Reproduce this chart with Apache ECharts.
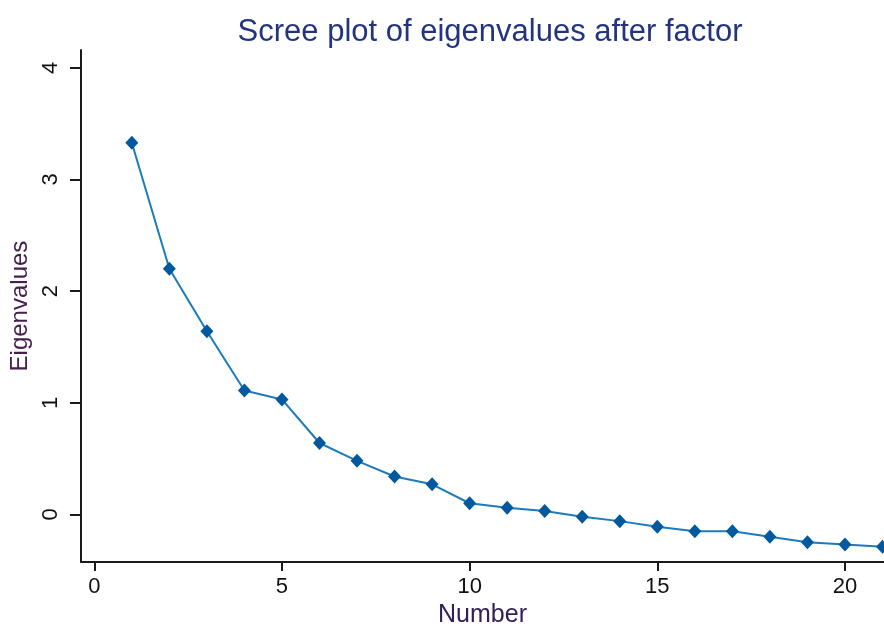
<!DOCTYPE html>
<html>
<head>
<meta charset="utf-8">
<script src="https://cdn.jsdelivr.net/npm/echarts@6/dist/echarts.min.js"></script>
<style>
html,body{margin:0;padding:0;background:#fff;}
#c{width:884px;height:633px;}
</style>
</head>
<body>
<div id="c"></div>
<script>
const titleText = "Scree plot of eigenvalues after factor";
const xName = "Number";
const yName = "Eigenvalues";
const factorNumbers = [1,2,3,4,5,6,7,8,9,10,11,12,13,14,15,16,17,18,19,20,21];
const eigenvalues = [3.33,2.20,1.64,1.11,1.03,0.64,0.48,0.34,0.27,0.10,0.06,0.03,-0.02,-0.06,-0.11,-0.15,-0.15,-0.20,-0.25,-0.27,-0.29];
const xTicks = [0,5,10,15,20];
const yTicks = [0,1,2,3,4];

const chart = echarts.init(document.getElementById('c'), null, {renderer:'canvas'});
const font = '"Liberation Sans", Arial, sans-serif';
chart.setOption({
  animation: false,
  backgroundColor: '#ffffff',
  title: {
    text: titleText,
    left: 485, top: 12, textAlign: 'center',
    textStyle: {fontFamily: font, fontSize: 31, fontWeight: 'normal', color: '#23347f'}
  },
  grid: {left: 81, right: 0, top: 50, bottom: 60, containLabel: false},
  xAxis: {
    type: 'value', min: -0.354, max: 21.04,
    name: xName, nameLocation: 'middle', nameGap: 34,
    nameTextStyle: {fontFamily: font, fontSize: 25, color: '#33205a'},
    axisLine: {show: true, onZero: false, lineStyle: {color: '#1a1a1a', width: 2}},
    axisTick: {show: true, length: 9, customValues: xTicks, lineStyle: {color: '#1a1a1a', width: 2}},
    axisLabel: {customValues: xTicks, margin: 14, fontFamily: font, fontSize: 22, color: '#111'},
    splitLine: {show: false}
  },
  yAxis: {
    type: 'value', min: -0.427, max: 4.16,
    name: yName, nameLocation: 'middle', nameGap: 45, nameRotate: 90,
    nameTextStyle: {fontFamily: font, fontSize: 24, color: '#45204f'},
    axisLine: {show: true, onZero: false, lineStyle: {color: '#1a1a1a', width: 2}},
    axisTick: {show: true, length: 11, customValues: yTicks, lineStyle: {color: '#1a1a1a', width: 2}},
    axisLabel: {customValues: yTicks, rotate: 90, margin: 19, fontFamily: font, fontSize: 22, color: '#111'},
    splitLine: {show: false}
  },
  series: [{
    type: 'line',
    data: factorNumbers.map((n, i) => [n, eigenvalues[i]]),
    symbol: 'diamond', symbolSize: [13, 14],
    clip: false,
    lineStyle: {color: '#1b7bbd', width: 2},
    itemStyle: {color: '#00589e'}
  }]
});
</script>
</body>
</html>
